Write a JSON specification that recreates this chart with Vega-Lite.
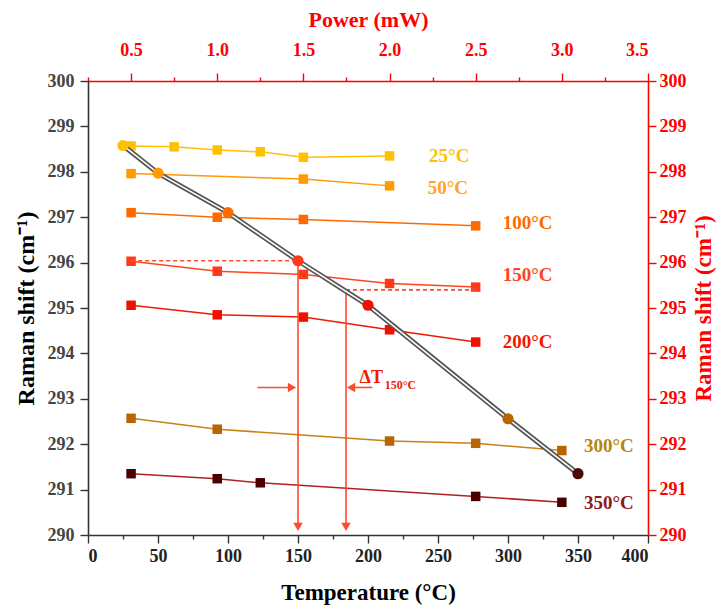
{
  "$schema": "https://vega.github.io/schema/vega-lite/v6.json",
  "width": 560,
  "height": 454,
  "autosize": "none",
  "padding": {"left": 88, "top": 81, "right": 75, "bottom": 75},
  "config": {
    "view": {"stroke": null},
    "font": "Liberation Serif",
    "axis": {
      "labelFont": "Liberation Serif",
      "labelFontWeight": "bold",
      "labelFontSize": 18,
      "titleFont": "Liberation Serif",
      "titleFontWeight": "bold",
      "titleFontSize": 23,
      "grid": false,
      "domainWidth": 1.6,
      "tickWidth": 1.4
    }
  },
  "datasets": {
    "squares": [
      {"series": "25", "P": 0.5, "v": 298.57}, {"series": "25", "P": 0.75, "v": 298.55}, {"series": "25", "P": 1.0, "v": 298.48}, {"series": "25", "P": 1.25, "v": 298.44}, {"series": "25", "P": 1.5, "v": 298.32}, {"series": "25", "P": 2.0, "v": 298.35},
      {"series": "50", "P": 0.5, "v": 297.96}, {"series": "50", "P": 1.5, "v": 297.84}, {"series": "50", "P": 2.0, "v": 297.69},
      {"series": "100", "P": 0.5, "v": 297.1}, {"series": "100", "P": 1.0, "v": 297.0}, {"series": "100", "P": 1.5, "v": 296.95}, {"series": "100", "P": 2.5, "v": 296.81},
      {"series": "150", "P": 0.5, "v": 296.03}, {"series": "150", "P": 1.0, "v": 295.81}, {"series": "150", "P": 1.5, "v": 295.74}, {"series": "150", "P": 2.0, "v": 295.54}, {"series": "150", "P": 2.5, "v": 295.46},
      {"series": "200", "P": 0.5, "v": 295.06}, {"series": "200", "P": 1.0, "v": 294.85}, {"series": "200", "P": 1.5, "v": 294.8}, {"series": "200", "P": 2.0, "v": 294.52}, {"series": "200", "P": 2.5, "v": 294.25},
      {"series": "300", "P": 0.5, "v": 292.57}, {"series": "300", "P": 1.0, "v": 292.33}, {"series": "300", "P": 2.0, "v": 292.07}, {"series": "300", "P": 2.5, "v": 292.02}, {"series": "300", "P": 3.0, "v": 291.86},
      {"series": "350", "P": 0.5, "v": 291.35}, {"series": "350", "P": 1.0, "v": 291.24}, {"series": "350", "P": 1.25, "v": 291.15}, {"series": "350", "P": 2.5, "v": 290.85}, {"series": "350", "P": 3.0, "v": 290.72}
    ],
    "circles": [
      {"series": "25", "T": 25, "v": 298.58},
      {"series": "50", "T": 50, "v": 297.97},
      {"series": "100", "T": 100, "v": 297.1},
      {"series": "150", "T": 150, "v": 296.04},
      {"series": "200", "T": 200, "v": 295.06},
      {"series": "300", "T": 300, "v": 292.56},
      {"series": "350", "T": 350, "v": 291.35}
    ],
    "labels": [
      {"series": "25", "T": 258, "v": 298.35, "text": "25°C"},
      {"series": "50", "T": 257, "v": 297.64, "text": "50°C"},
      {"series": "100", "T": 314, "v": 296.87, "text": "100°C"},
      {"series": "150", "T": 314, "v": 295.72, "text": "150°C"},
      {"series": "200", "T": 314, "v": 294.25, "text": "200°C"},
      {"series": "300", "T": 372, "v": 291.95, "text": "300°C"},
      {"series": "350", "T": 372, "v": 290.7, "text": "350°C"}
    ],
    "dashes": [
      {"id": "a", "T": 30.8, "v": 296.04}, {"id": "a", "T": 150, "v": 296.04},
      {"id": "b", "T": 184.3, "v": 295.4}, {"id": "b", "T": 276.9, "v": 295.4}
    ],
    "solid": [
      {"id": "v1", "T": 150, "v": 296.04}, {"id": "v1", "T": 150, "v": 290.2},
      {"id": "v2", "T": 184.3, "v": 295.4}, {"id": "v2", "T": 184.3, "v": 290.2},
      {"id": "h1", "T": 121, "v": 293.25}, {"id": "h1", "T": 146, "v": 293.25},
      {"id": "h2", "T": 188, "v": 293.25}, {"id": "h2", "T": 203, "v": 293.25}
    ],
    "heads": [
      {"T": 150, "v": 290.18, "shape": "triangle-down"},
      {"T": 184.3, "v": 290.18, "shape": "triangle-down"},
      {"T": 145.7, "v": 293.25, "shape": "triangle-right"},
      {"T": 187.9, "v": 293.25, "shape": "triangle-left"}
    ],
    "dtext": [
      {"T": 194, "v": 293.45, "text": "ΔT", "part": "main"},
      {"T": 212, "v": 293.3, "text": "150°C", "part": "sub"}
    ]
  },
  "layer": [
    {
      "data": {"name": "squares"},
      "encoding": {
        "x": {"field": "P", "type": "quantitative",
          "scale": {"domain": [0.25, 3.5], "nice": false, "zero": false},
          "axis": {"orient": "top", "title": "Power (mW)", "titleColor": "#FF0000", "labelColor": "#FF0000", "domainColor": "#FF0000", "tickColor": "#FF0000",
            "values": [0.25, 0.5, 0.75, 1.0, 1.25, 1.5, 1.75, 2.0, 2.25, 2.5, 2.75, 3.0, 3.25, 3.5],
            "format": ".1f",
            "labelExpr": "(datum.value * 2) % 1 === 0 ? datum.label : ''",
            "tickSize": {"condition": {"test": "(datum.value * 2) % 1 === 0", "value": 8}, "value": 4},
            "titleFontSize": 22,
            "labelPadding": 14, "titlePadding": 10}},
        "y": {"field": "v", "type": "quantitative",
          "scale": {"domain": [290, 300], "nice": false, "zero": false},
          "axis": {"orient": "right", "title": "Raman shift (cm⁻¹)", "titleColor": "#FF0000", "labelColor": "#FF0000", "domainColor": "#FF0000", "tickColor": "#FF0000",
            "values": [290, 290.5, 291, 291.5, 292, 292.5, 293, 293.5, 294, 294.5, 295, 295.5, 296, 296.5, 297, 297.5, 298, 298.5, 299, 299.5, 300],
            "format": "d",
            "labelExpr": "datum.value % 1 === 0 ? datum.label : ''",
            "tickSize": {"condition": {"test": "datum.value % 1 === 0", "value": 8}, "value": 4},
            "titleAngle": 270,
            "titleBaseline": "top",
            "labelPadding": 3, "titlePadding": 6}}
      },
      "layer": [
        {
          "mark": {"type": "line", "strokeWidth": 1.5},
          "encoding": {
            "detail": {"field": "series"},
            "color": {"field": "series", "type": "nominal", "legend": null,
              "scale": {"domain": ["25", "50", "100", "150", "200", "300", "350"], "range": ["#FFC000", "#FF9A00", "#FF6A00", "#FF4422", "#EE1A00", "#C98014", "#B02020"]}}
          }
        },
        {
          "mark": {"type": "point", "shape": "square", "filled": true, "size": 90, "opacity": 1},
          "encoding": {
            "color": {"field": "series", "type": "nominal", "legend": null,
              "scale": {"domain": ["25", "50", "100", "150", "200", "300", "350"], "range": ["#FFC000", "#FF9A00", "#FF6A00", "#FF3A1A", "#EE1100", "#B86400", "#4A0000"]}}
          }
        }
      ],
      "resolve": {"scale": {"color": "independent"}}
    },
    {
      "encoding": {
        "x": {"field": "T", "type": "quantitative",
          "scale": {"domain": [0, 400], "nice": false, "zero": false},
          "axis": {"orient": "bottom", "title": "Temperature (°C)", "titleColor": "#000", "labelColor": "#222", "domainColor": "#333", "tickColor": "#333",
            "values": [0, 25, 50, 75, 100, 125, 150, 175, 200, 225, 250, 275, 300, 325, 350, 375, 400],
            "labelExpr": "datum.value % 50 === 0 ? datum.label : ''",
            "tickSize": {"condition": {"test": "datum.value % 50 === 0", "value": 8}, "value": 4},
            "labelPadding": 4, "titlePadding": 16}},
        "y": {"field": "v", "type": "quantitative",
          "scale": {"domain": [290, 300], "nice": false, "zero": false},
          "axis": {"orient": "left", "title": "Raman shift (cm⁻¹)", "titleColor": "#000", "labelColor": "#444", "domainColor": "#333", "tickColor": "#333",
            "values": [290, 290.5, 291, 291.5, 292, 292.5, 293, 293.5, 294, 294.5, 295, 295.5, 296, 296.5, 297, 297.5, 298, 298.5, 299, 299.5, 300],
            "format": "d",
            "labelExpr": "datum.value % 1 === 0 ? datum.label : ''",
            "tickSize": {"condition": {"test": "datum.value % 1 === 0", "value": 8}, "value": 4},
            "titleFontSize": 24,
            "labelPadding": 6, "titlePadding": 9}}
      },
      "layer": [
        {
          "data": {"name": "dashes"},
          "mark": {"type": "line", "color": "#FF4B2B", "strokeWidth": 1.6, "strokeDash": [4, 3]},
          "encoding": {"detail": {"field": "id"}}
        },
        {
          "data": {"name": "solid"},
          "mark": {"type": "line", "color": "#FF4B2B", "strokeWidth": 1.6},
          "encoding": {"detail": {"field": "id"}}
        },
        {
          "data": {"name": "heads"},
          "mark": {"type": "point", "filled": true, "color": "#FF4B2B", "size": 90, "opacity": 1},
          "encoding": {"shape": {"field": "shape", "type": "nominal", "scale": null}}
        },
        {
          "data": {"name": "circles"},
          "mark": {"type": "line", "color": "#555555", "strokeWidth": 5},
          "encoding": {}
        },
        {
          "data": {"name": "circles"},
          "mark": {"type": "line", "color": "#FFFFFF", "strokeWidth": 1.6},
          "encoding": {}
        },
        {
          "data": {"name": "circles"},
          "mark": {"type": "circle", "size": 125, "opacity": 1},
          "encoding": {
            "color": {"field": "series", "type": "nominal", "legend": null,
              "scale": {"domain": ["25", "50", "100", "150", "200", "300", "350"], "range": ["#FFC000", "#FF9A00", "#FF6A00", "#FF3A1A", "#EE1100", "#B86400", "#4A0A0A"]}}
          }
        },
        {
          "data": {"name": "labels"},
          "mark": {"type": "text", "font": "Liberation Serif", "fontWeight": "bold", "fontSize": 19, "align": "center", "baseline": "middle"},
          "encoding": {
            "text": {"field": "text"},
            "color": {"field": "series", "type": "nominal", "legend": null,
              "scale": {"domain": ["25", "50", "100", "150", "200", "300", "350"], "range": ["#FFC000", "#FFA526", "#FF6A00", "#FF4422", "#EE1A00", "#B8860B", "#8B1A1A"]}}
          }
        },
        {
          "data": {"name": "dtext"},
          "mark": {"type": "text", "font": "Liberation Serif", "fontWeight": "bold", "align": "left", "baseline": "middle", "color": "#EE1A00"},
          "encoding": {
            "text": {"field": "text"},
            "size": {"field": "part", "type": "nominal", "scale": {"domain": ["main", "sub"], "range": [18, 12]}, "legend": null}
          }
        }
      ],
      "resolve": {"scale": {"color": "independent"}}
    }
  ],
  "resolve": {"scale": {"x": "independent", "y": "independent"}}
}
